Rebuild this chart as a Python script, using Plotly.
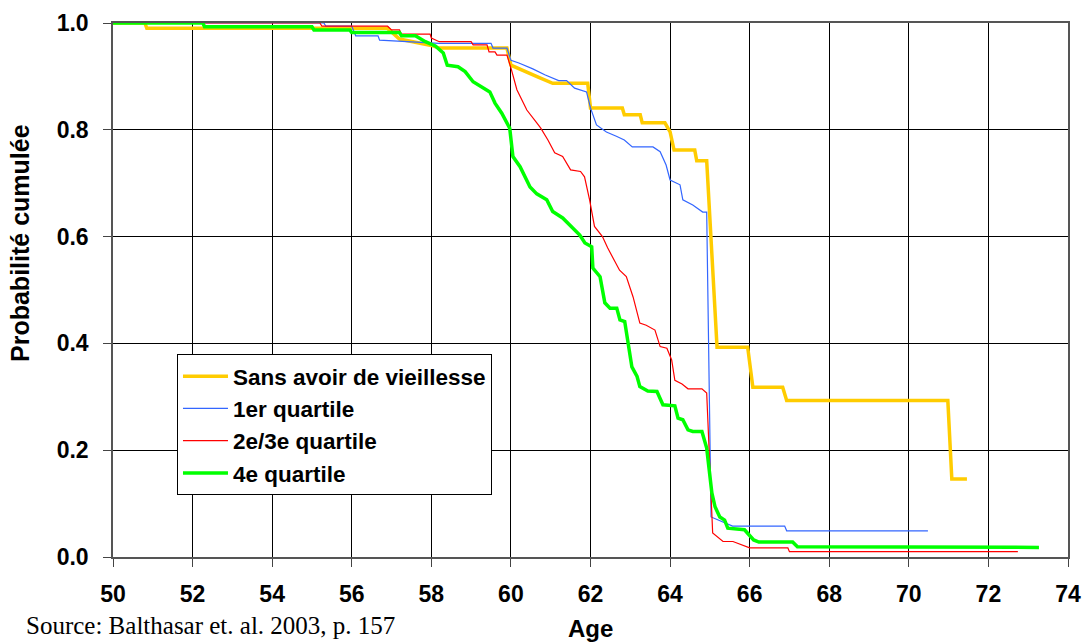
import plotly.graph_objects as go

# Sans avoir de vieillesse
age_sans = [50, 50.8, 50.85, 56.9, 57.2, 58.0, 58.2, 59.9, 60.0, 60.35, 60.7, 61.05, 61.93, 62.0, 62.8, 62.85,
            63.25, 63.3, 63.87, 64.0, 64.1, 64.62, 64.67, 64.92, 65.18, 65.95, 66.08, 66.83, 66.93, 70.98, 71.08, 71.46]
p_sans = [1.0, 1.0, 0.99, 0.99, 0.97, 0.958, 0.953, 0.953, 0.921, 0.909, 0.898, 0.887, 0.887, 0.841, 0.841, 0.828,
          0.828, 0.813, 0.813, 0.796, 0.762, 0.762, 0.742, 0.742, 0.393, 0.393, 0.318, 0.318, 0.293, 0.293, 0.146, 0.146]

# 1er quartile
age_q1 = [50, 55.3, 55.35, 56.0, 56.1, 56.66, 56.7, 58.2, 59.5, 59.55, 59.9, 60.0, 60.2, 60.55, 60.85, 61.2, 61.4,
          61.6, 61.9, 62.0, 62.15, 62.4, 62.65, 62.85, 63.05, 63.57, 63.75, 63.9, 64.0, 64.25, 64.32, 64.57, 64.82,
          64.92, 65.03, 65.3, 65.57, 66.88, 66.93, 70.48]
p_q1 = [1.0, 1.0, 0.994, 0.994, 0.976, 0.976, 0.968, 0.962, 0.962, 0.953, 0.953, 0.93, 0.925, 0.914, 0.903, 0.892,
        0.892, 0.878, 0.871, 0.841, 0.809, 0.796, 0.788, 0.781, 0.768, 0.768, 0.759, 0.734, 0.706, 0.697, 0.669,
        0.659, 0.646, 0.646, 0.075, 0.067, 0.058, 0.058, 0.049, 0.049]

# 2e/3e quartile
age_q23 = [50, 55.2, 55.25, 56.9, 57.0, 57.2, 57.25, 57.97, 58.0, 58.2, 59.0, 59.05, 59.4, 59.45, 59.6, 59.65, 59.9,
           60.0, 60.15, 60.4, 60.65, 60.75, 60.93, 61.1, 61.3, 61.5, 61.75, 61.85, 61.98, 62.1, 62.3, 62.43, 62.73,
           62.9, 63.07, 63.24, 63.4, 63.62, 63.75, 63.92, 64.04, 64.12, 64.3, 64.45, 64.8, 64.92, 65.07, 65.33,
           65.58, 66.0, 66.96, 67.0, 72.74]
p_q23 = [1.0, 1.0, 0.994, 0.994, 0.987, 0.987, 0.979, 0.979, 0.972, 0.965, 0.965, 0.959, 0.959, 0.946, 0.946, 0.94,
         0.94, 0.916, 0.875, 0.837, 0.813, 0.803, 0.781, 0.757, 0.75, 0.725, 0.722, 0.712, 0.668, 0.619, 0.6, 0.579,
         0.537, 0.525, 0.487, 0.438, 0.434, 0.425, 0.394, 0.391, 0.369, 0.331, 0.324, 0.315, 0.315, 0.307, 0.045,
         0.029, 0.029, 0.017, 0.017, 0.01, 0.01]

# 4e quartile
age_q4 = [50, 52.26, 52.3, 55.0, 55.05, 55.95, 56.0, 57.2, 57.25, 57.6, 57.85, 58.1, 58.3, 58.4, 58.67, 58.85,
          59.05, 59.3, 59.47, 59.6, 59.77, 59.97, 60.05, 60.23, 60.48, 60.65, 60.9, 61.05, 61.3, 61.73, 61.86,
          62.03, 62.06, 62.24, 62.36, 62.49, 62.66, 62.74, 62.86, 63.04, 63.17, 63.24, 63.44, 63.67, 63.82, 64.12,
          64.2, 64.32, 64.45, 64.57, 64.8, 64.92, 65.05, 65.13, 65.25, 65.37, 65.45, 65.87, 66.1, 66.23, 67.08,
          67.2, 73.27]
p_q4 = [1.0, 1.0, 0.993, 0.993, 0.987, 0.987, 0.982, 0.982, 0.976, 0.976, 0.965, 0.957, 0.944, 0.921, 0.918, 0.909,
        0.89, 0.878, 0.871, 0.85, 0.831, 0.803, 0.75, 0.731, 0.693, 0.68, 0.669, 0.647, 0.635, 0.603, 0.588,
        0.581, 0.541, 0.525, 0.476, 0.466, 0.466, 0.444, 0.441, 0.356, 0.338, 0.319, 0.311, 0.31, 0.285, 0.283,
        0.26, 0.257, 0.238, 0.235, 0.235, 0.204, 0.12, 0.094, 0.075, 0.069, 0.054, 0.051, 0.032, 0.028, 0.028,
        0.019, 0.018]

series_names = ["Sans avoir de vieillesse", "1er quartile", "2e/3e quartile", "4e quartile"]
x_ticks = [50, 52, 54, 56, 58, 60, 62, 64, 66, 68, 70, 72, 74]
y_ticks = [0.0, 0.2, 0.4, 0.6, 0.8, 1.0]
y_tick_text = ["0.0", "0.2", "0.4", "0.6", "0.8", "1.0"]

FONT = "Liberation Sans, Arial, sans-serif"

fig = go.Figure()
fig.add_trace(go.Scatter(x=age_sans, y=p_sans, mode="lines", name=series_names[0],
                         line=dict(color="#FFCC00", width=3.5)))
fig.add_trace(go.Scatter(x=age_q1, y=p_q1, mode="lines", name=series_names[1],
                         line=dict(color="#3366FF", width=1.2)))
fig.add_trace(go.Scatter(x=age_q23, y=p_q23, mode="lines", name=series_names[2],
                         line=dict(color="#FF0000", width=1.2)))
fig.add_trace(go.Scatter(x=age_q4, y=p_q4, mode="lines", name=series_names[3],
                         line=dict(color="#00FF00", width=3.5)))

fig.update_layout(
    width=1084, height=642,
    margin=dict(l=113, r=16, t=23, b=85),
    paper_bgcolor="white", plot_bgcolor="white",
    font=dict(family=FONT, size=23, color="black", weight="bold"),
    showlegend=True,
    legend=dict(x=0.067, y=0.38, xanchor="left", yanchor="top",
                bgcolor="white", bordercolor="black", borderwidth=1,
                font=dict(family=FONT, size=22.5, color="black", weight="bold"),
                itemwidth=45, tracegroupgap=0),
    xaxis=dict(range=[50, 74], tickvals=x_ticks, showgrid=True, gridcolor="black", gridwidth=1,
               showline=True, linecolor="#555", linewidth=1.5, mirror=True, automargin=False,
               ticks="outside", ticklen=8, tickcolor="#444", zeroline=False, ticklabelstandoff=8,
               tickfont=dict(family=FONT, size=23, weight="bold")),
    yaxis=dict(range=[0, 1.0], tickvals=y_ticks, ticktext=y_tick_text, showgrid=True,
               gridcolor="black", gridwidth=1, automargin=False,
               showline=True, linecolor="#555", linewidth=1.5, mirror=True,
               ticks="outside", ticklen=8, tickcolor="#444", zeroline=False, ticklabelstandoff=10,
               tickfont=dict(family=FONT, size=23, weight="bold")),
    annotations=[
        dict(text="Age", xref="paper", yref="paper", x=0.5, y=-0.133, xanchor="center", yanchor="middle",
             showarrow=False, font=dict(family=FONT, size=24, weight="bold")),
        dict(text="Probabilité cumulée", xref="paper", yref="paper", x=-0.0974, y=0.588, textangle=-90,
             xanchor="center", yanchor="middle", showarrow=False,
             font=dict(family=FONT, size=25, weight="bold")),
        dict(text="Source: Balthasar et. al. 2003, p. 157", xref="paper", yref="paper", x=-0.093, y=-0.128,
             xanchor="left", yanchor="middle", showarrow=False,
             font=dict(family="Liberation Serif, Times New Roman, serif", size=25, weight="normal")),
    ],
)

fig.write_html("out.html", config={"displayModeBar": False},
               post_script="document.body.style.margin='0';document.body.style.padding='0';"
                           "document.body.style.overflow='hidden';")
